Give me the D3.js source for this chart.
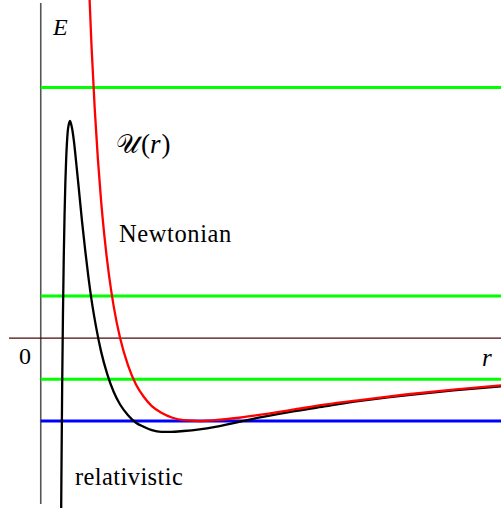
<!DOCTYPE html>
<html>
<head>
<meta charset="utf-8">
<script src="https://cdn.jsdelivr.net/npm/d3@7"></script>
<style>
  html, body { margin: 0; padding: 0; background: #fff; }
  svg { display: block; }
  text { font-family: "Liberation Serif", "DejaVu Serif", serif; fill: #000; }
</style>
</head>
<body>
<svg id="chart" width="501" height="508"></svg>
<script>
// Effective potential in units of the circular-orbit radius (r) and |U_min| (E).
const newtonR = [0.28, 0.30, 0.32, 0.34, 0.36, 0.38, 0.40, 0.43, 0.46, 0.50, 0.55, 0.60, 0.65, 0.70, 0.76, 0.83, 0.90, 1.0, 1.1, 1.25, 1.4, 1.6, 1.8, 2.0, 2.3, 2.6, 2.9];
const newtonU = [5.61, 4.44, 3.52, 2.77, 2.16, 1.66, 1.25, 0.76, 0.38, 0.00, -0.33, -0.56, -0.71, -0.82, -0.90, -0.96, -0.99, -1.00, -0.99, -0.96, -0.92, -0.86, -0.80, -0.75, -0.68, -0.62, -0.57];

const relR = [0.127, 0.13, 0.135, 0.14, 0.145, 0.15, 0.155, 0.16, 0.165, 0.17, 0.175, 0.18, 0.185, 0.19, 0.195, 0.20, 0.21, 0.22, 0.23, 0.24, 0.26, 0.28, 0.30, 0.32, 0.35, 0.38, 0.42, 0.46, 0.50, 0.55, 0.60, 0.65, 0.70, 0.76, 0.82, 0.90, 1.0, 1.1, 1.25, 1.4, 1.6, 1.8, 2.0, 2.3, 2.6, 2.9];
const relU = [-2.57, -1.73, -0.58, 0.29, 0.97, 1.48, 1.87, 2.15, 2.35, 2.49, 2.56, 2.60, 2.62, 2.59, 2.55, 2.50, 2.36, 2.18, 1.99, 1.80, 1.41, 1.06, 0.74, 0.46, 0.12, -0.16, -0.44, -0.65, -0.80, -0.93, -1.02, -1.07, -1.11, -1.13, -1.13, -1.12, -1.10, -1.07, -1.01, -0.95, -0.88, -0.82, -0.76, -0.69, -0.63, -0.58];

// Energy levels: unbound and bound orbits (green), circular orbit (blue)
const greenLevels = [3.02, 0.507, -0.497];
const blueLevels = [-1.0];

const svg = d3.select("#chart");
const W = 501, H = 508;

const x = d3.scaleLinear().domain([-0.2, 2.9]).range([9, 501]);
const y = d3.scaleLinear().domain([-2, 4.04]).range([504, 3]);

svg.append("rect").attr("width", W).attr("height", H).attr("fill", "#fff");

// E axis
svg.append("line")
  .attr("x1", x(0)).attr("x2", x(0))
  .attr("y1", y(4.04)).attr("y2", y(-2))
  .attr("stroke", "#555").attr("stroke-width", 1.6);

// r axis at E = 0
svg.append("line")
  .attr("x1", x(-0.2)).attr("x2", x(2.9))
  .attr("y1", y(0)).attr("y2", y(0))
  .attr("stroke", "#4a0808").attr("stroke-width", 1.2);

const level = (vals, color) => svg.append("g").selectAll("line").data(vals).join("line")
  .attr("x1", x(0)).attr("x2", x(2.9))
  .attr("y1", d => y(d)).attr("y2", d => y(d))
  .attr("stroke", color).attr("stroke-width", 3);

level(greenLevels, "#00ff00");
level(blueLevels, "#0000ff");

const line = d3.line()
  .x(d => x(d[0]))
  .y(d => y(d[1]))
  .curve(d3.curveMonotoneX);

svg.append("path")
  .datum(d3.zip(relR, relU))
  .attr("d", line)
  .attr("fill", "none").attr("stroke", "#000").attr("stroke-width", 2.3);

svg.append("path")
  .datum(d3.zip(newtonR, newtonU))
  .attr("d", line)
  .attr("fill", "none").attr("stroke", "#ff0000").attr("stroke-width", 2.3);

// Labels
svg.append("text").attr("x", 53).attr("y", 35)
  .attr("font-size", 24).attr("font-style", "italic").text("E");

const u = svg.append("text").attr("x", 116).attr("y", 153).attr("font-size", 27);
u.append("tspan").attr("font-size", 26).text("𝒰");
u.append("tspan").attr("dx", 2).text("(");
u.append("tspan").attr("font-style", "italic").text("r");
u.append("tspan").attr("dx", 1).text(")");

svg.append("text").attr("x", 119).attr("y", 242)
  .attr("font-size", 24.5).attr("letter-spacing", 0.6).text("Newtonian");

svg.append("text").attr("x", 75).attr("y", 485)
  .attr("font-size", 24.5).attr("letter-spacing", 0.4).text("relativistic");

svg.append("text").attr("x", 19).attr("y", 364)
  .attr("font-size", 24).text("0");

svg.append("text").attr("x", 482).attr("y", 366)
  .attr("font-size", 25).attr("font-style", "italic").text("r");
</script>
</body>
</html>
